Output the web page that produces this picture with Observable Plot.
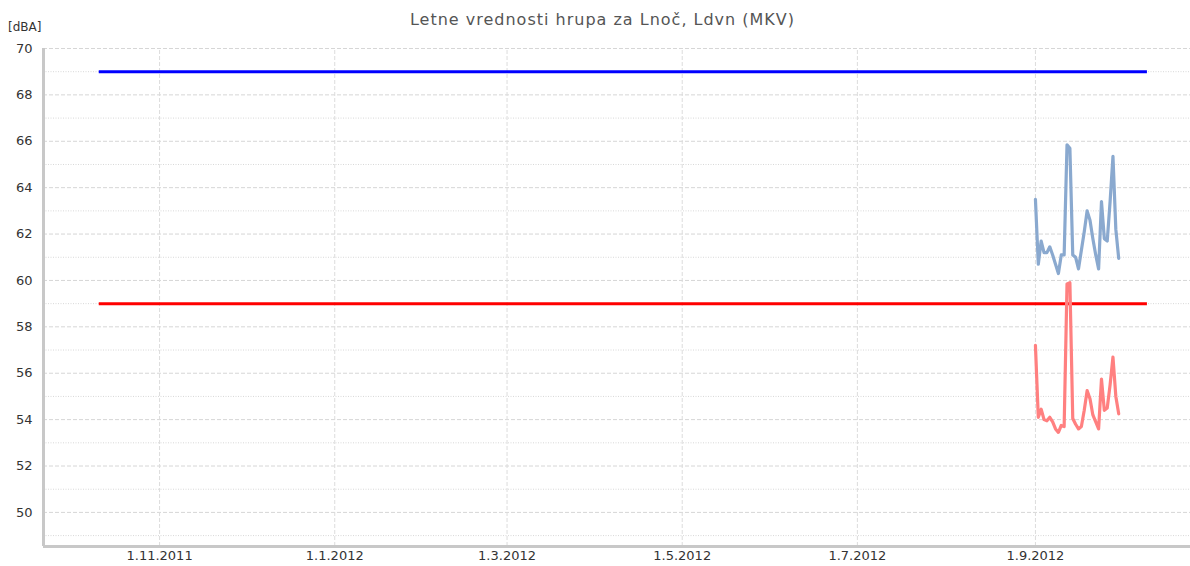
<!DOCTYPE html>
<html>
<head>
<meta charset="utf-8">
<script src="https://cdn.jsdelivr.net/npm/d3@7"></script>
<script src="https://cdn.jsdelivr.net/npm/@observablehq/plot@0.6"></script>
<style>
  html, body { margin: 0; padding: 0; background: #fff; }
  #wrap { position: relative; width: 1190px; height: 566px; font-family: "DejaVu Sans", sans-serif; }
  #title { position: absolute; top: 10px; left: 0; width: 1205px; text-align: center; font-size: 16px; letter-spacing: 1px; color: #555; }
  #ylabel { position: absolute; top: 20px; left: 8px; font-size: 12px; color: #333; }
  #chart { position: absolute; top: 0; left: 0; }
</style>
</head>
<body>
<div id="wrap">
  <div id="chart"></div>
  <div id="title">Letne vrednosti hrupa za Lnoč, Ldvn (MKV)</div>
  <div id="ylabel">[dBA]</div>
</div>
<script>
// Daily dates for September 2012
const days = d3.range(1, 31).map(d => new Date(Date.UTC(2012, 8, d)));

// Ldvn (light blue) daily values
const ldvn = [63.5, 60.7, 61.7, 61.2, 61.2, 61.45, 61.1, 60.7, 60.3, 61.1,
              61.1, 65.85, 65.7, 61.1, 61.0, 60.5, 61.3, 62.1, 63.0, 62.6,
              61.8, 61.1, 60.5, 63.4, 61.8, 61.7, 63.4, 65.35, 62.2, 60.95];

// Lnoč (light red) daily values
const lnoc = [57.2, 54.1, 54.45, 54.0, 53.95, 54.1, 53.9, 53.6, 53.45, 53.75,
              53.7, 59.85, 59.9, 54.05, 53.8, 53.6, 53.7, 54.4, 55.25, 54.9,
              54.2, 53.9, 53.6, 55.75, 54.4, 54.5, 55.5, 56.7, 55.0, 54.25];

// Limit values
const limitLdvn = 69;
const limitLnoc = 59;
const limitStart = new Date(Date.UTC(2011, 9, 11));
const limitEnd = new Date(Date.UTC(2012, 9, 10));

// Axis ticks
const xTicks = [
  new Date(Date.UTC(2011, 10, 1)),
  new Date(Date.UTC(2012, 0, 1)),
  new Date(Date.UTC(2012, 2, 1)),
  new Date(Date.UTC(2012, 4, 1)),
  new Date(Date.UTC(2012, 6, 1)),
  new Date(Date.UTC(2012, 8, 1))
];
const yMajor = [50, 52, 54, 56, 58, 60, 62, 64, 66, 68, 70];
const yMinor = [49, 51, 53, 55, 57, 59, 61, 63, 65, 67, 69];

const xDomain = [new Date(Date.UTC(2011, 8, 21, 14)), new Date(Date.UTC(2012, 9, 25))];
const yDomain = [48.53, 70];

const ldvnData = days.map((d, i) => ({date: d, value: ldvn[i]}));
const lnocData = days.map((d, i) => ({date: d, value: lnoc[i]}));

const fmt = d => `${d.getUTCDate()}.${d.getUTCMonth() + 1}.${d.getUTCFullYear()}`;

const chart = Plot.plot({
  width: 1190,
  height: 566,
  marginLeft: 43,
  marginRight: 0,
  marginTop: 48,
  marginBottom: 20,
  style: {fontFamily: "DejaVu Sans, sans-serif", fontSize: "13px", color: "#333", background: "transparent"},
  x: {type: "utc", domain: xDomain},
  y: {domain: yDomain},
  marks: [
    Plot.ruleY(yMinor, {stroke: "#d8d8d8", strokeDasharray: "1,1.5", strokeWidth: 1}),
    Plot.ruleY(yMajor, {stroke: "#d6d6d6", strokeDasharray: "4,2", strokeWidth: 1}),
    Plot.ruleX(xTicks, {y1: yDomain[0], y2: yDomain[1], stroke: "#dcdcdc", strokeDasharray: "4,2", strokeWidth: 1}),
    Plot.axisY(yMajor, {tickSize: 0, tickPadding: 11, fontSize: 13, fill: "#333", label: null}),
    Plot.axisX(xTicks, {tickSize: 0, tickPadding: 4, fontSize: 13, fill: "#333", label: null, tickFormat: fmt}),
    Plot.ruleX([xDomain[0]], {stroke: "#c8c8c8", strokeWidth: 3}),
    Plot.ruleY([yDomain[0]], {stroke: "#c8c8c8", strokeWidth: 3}),
    Plot.ruleY([limitLdvn], {x1: limitStart, x2: limitEnd, stroke: "#0000ff", strokeWidth: 3}),
    Plot.ruleY([limitLnoc], {x1: limitStart, x2: limitEnd, stroke: "#ff0000", strokeWidth: 3}),
    Plot.line(ldvnData, {x: "date", y: "value", stroke: "#8aa9cf", strokeWidth: 3.2, strokeLinejoin: "round"}),
    Plot.line(lnocData, {x: "date", y: "value", stroke: "#ff8080", strokeWidth: 3.2, strokeLinejoin: "round"})
  ]
});
document.getElementById("chart").appendChild(chart);
</script>
</body>
</html>
